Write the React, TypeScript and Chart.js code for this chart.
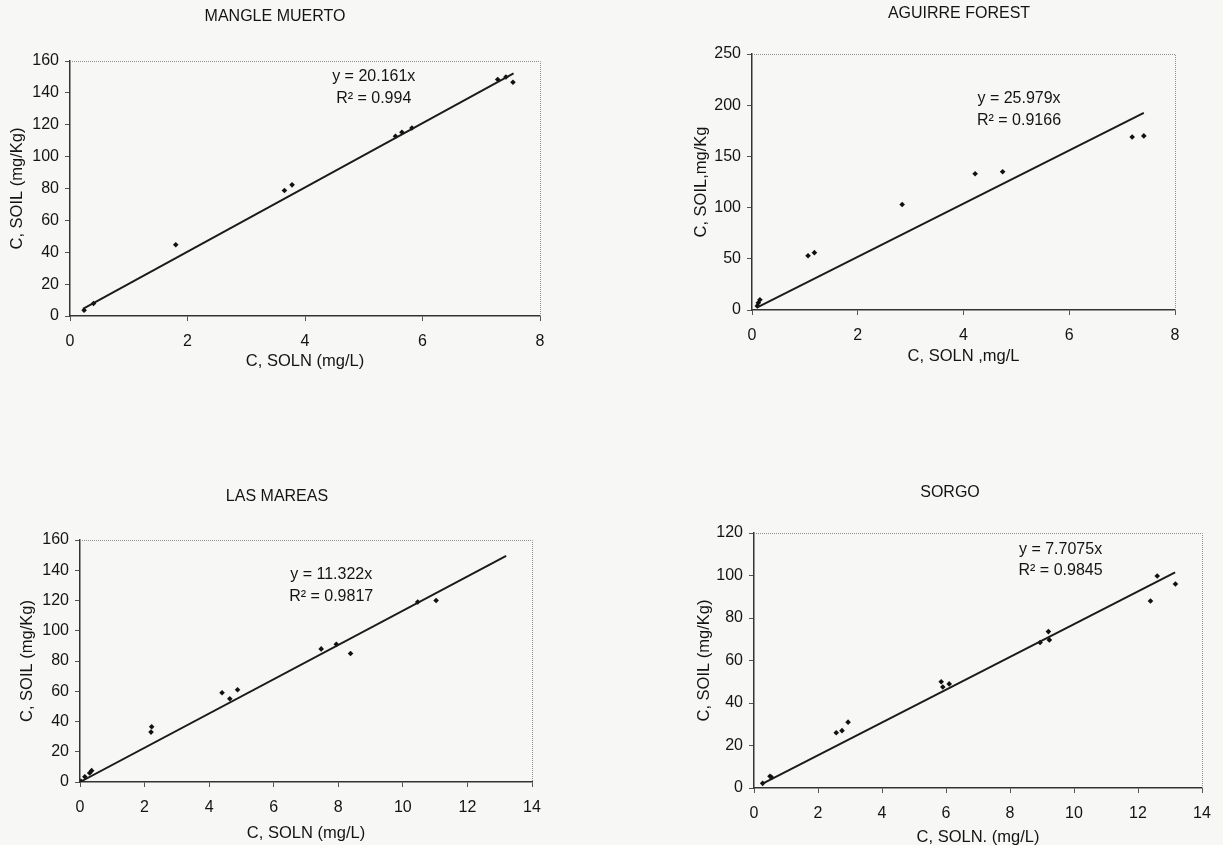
import React, { useEffect, useRef } from "react";
import { Chart, registerables } from "chart.js";

Chart.register(...registerables);

// ---------- data ----------
const mangleX = [0.24, 0.4, 1.8, 3.65, 3.78, 5.54, 5.65, 5.82, 7.28, 7.42, 7.54];
const mangleY = [3.6, 7.8, 44.7, 78.7, 82.3, 112.8, 115.3, 118, 148.4, 150, 146.7];
const mangleSlope = 20.161;
const mangleR2 = "0.994";
const mangleTrendRange = [0.22, 7.55];

const aguirreX = [0.1, 0.12, 0.15, 1.06, 1.18, 2.84, 4.22, 4.74, 7.19, 7.41];
const aguirreY = [4, 7, 10, 53, 56, 103, 133, 135, 169, 170];
const aguirreSlope = 25.979;
const aguirreR2 = "0.9166";
const aguirreTrendRange = [0.1, 7.41];

const mareasX = [0.03, 0.15, 0.3, 0.36, 2.2, 2.22, 4.4, 4.64, 4.88, 7.47, 7.94, 8.38, 10.46, 11.03];
const mareasY = [0.5, 3.5, 6, 7.5, 33, 36.5, 59, 55, 61, 88, 91, 85, 119, 120];
const mareasSlope = 11.322;
const mareasR2 = "0.9817";
const mareasTrendRange = [0, 13.2];

const sorgoX = [0.27, 0.5, 0.55, 2.57, 2.75, 2.94, 5.85, 5.9, 6.1, 8.94, 9.2, 9.23, 12.39, 12.6, 13.17];
const sorgoY = [2.2, 5.5, 5, 26, 27, 31, 50, 47.5, 49, 68.5, 73.6, 69.7, 88, 99.8, 96];
const sorgoSlope = 7.7075;
const sorgoR2 = "0.9845";
const sorgoTrendRange = [0.27, 13.16];

const xTicksShort = [0, 8, 2]; // min, max, step
const xTicksLong = [0, 14, 2];
const yTicks160 = [0, 160, 20];
const yTicks250 = [0, 250, 50];
const yTicks120 = [0, 120, 20];

const FONT = '"Liberation Sans", Arial, Helvetica, sans-serif';
const INK = "#141414";
const BG = "#f7f8f6";

type Panel = {
  title: string;
  xTitle: string;
  yTitle: string;
  xs: number[];
  ys: number[];
  slope: number;
  r2: string;
  trend: number[];
  xT: number[];
  yT: number[];
  eq: number[]; // data-space anchor for the equation label
  // layout
  left: number;
  top: number;
  w: number;
  h: number;
  padTop: number;
  padRight: number;
  yW: number;
  xH: number;
  yTitlePad: number;
  xTitlePad: number;
  titlePos: number[];
};

const panels: Panel[] = [
  {
    title: "MANGLE MUERTO", xTitle: "C, SOLN (mg/L)", yTitle: "C, SOIL (mg/Kg)",
    xs: mangleX, ys: mangleY, slope: mangleSlope, r2: mangleR2, trend: mangleTrendRange,
    xT: xTicksShort, yT: yTicks160, eq: [5.17, 150],
    left: 0, top: 0, w: 611, h: 380, padTop: 61, padRight: 71, yW: 70, xH: 64,
    yTitlePad: 8, xTitlePad: 9, titlePos: [275, 17],
  },
  {
    title: "AGUIRRE FOREST", xTitle: "C, SOLN ,mg/L", yTitle: "C, SOIL,mg/Kg",
    xs: aguirreX, ys: aguirreY, slope: aguirreSlope, r2: aguirreR2, trend: aguirreTrendRange,
    xT: xTicksShort, yT: yTicks250, eq: [5.05, 206],
    left: 620, top: 0, w: 603, h: 380, padTop: 54, padRight: 48, yW: 132, xH: 70,
    yTitlePad: 72, xTitlePad: 14, titlePos: [339, 14],
  },
  {
    title: "LAS MAREAS", xTitle: "C, SOLN (mg/L)", yTitle: "C, SOIL (mg/Kg)",
    xs: mareasX, ys: mareasY, slope: mareasSlope, r2: mareasR2, trend: mareasTrendRange,
    xT: xTicksLong, yT: yTicks160, eq: [7.78, 137],
    left: 0, top: 460, w: 611, h: 385, padTop: 80, padRight: 79, yW: 80, xH: 63,
    yTitlePad: 18, xTitlePad: 2, titlePos: [277, 37],
  },
  {
    title: "SORGO", xTitle: "C, SOLN. (mg/L)", yTitle: "C, SOIL (mg/Kg)",
    xs: sorgoX, ys: sorgoY, slope: sorgoSlope, r2: sorgoR2, trend: sorgoTrendRange,
    xT: xTicksLong, yT: yTicks120, eq: [9.58, 112.4],
    left: 620, top: 460, w: 603, h: 388, padTop: 73, padRight: 21, yW: 134, xH: 60,
    yTitlePad: 75, xTitlePad: 1, titlePos: [330, 33],
  },
];

const extrasPlugin = {
  id: "extras",
  beforeDatasetsDraw(chart: any) {
    const { ctx, chartArea: a } = chart;
    ctx.save();
    ctx.strokeStyle = "#8f8f8f";
    ctx.lineWidth = 1;
    ctx.setLineDash([1, 1]);
    ctx.beginPath();
    ctx.moveTo(a.left, Math.round(a.top) + 0.5);
    ctx.lineTo(Math.round(a.right) + 0.5, Math.round(a.top) + 0.5);
    ctx.lineTo(Math.round(a.right) + 0.5, a.bottom);
    ctx.stroke();
    ctx.restore();
  },
  afterDraw(chart: any, _args: any, opts: any) {
    const { ctx } = chart;
    ctx.save();
    ctx.fillStyle = INK;
    ctx.textAlign = "center";
    ctx.textBaseline = "middle";
    ctx.font = `16px ${FONT}`;
    ctx.fillText(opts.title, opts.titlePos[0], opts.titlePos[1]);
    const px = chart.scales.x.getPixelForValue(opts.eq[0]);
    const py = chart.scales.y.getPixelForValue(opts.eq[1]);
    ctx.font = `16px ${FONT}`;
    ctx.fillText(`y = ${opts.slope}x`, px, py);
    ctx.fillText(`R\u00B2 = ${opts.r2}`, px, py + 21.5);
    ctx.restore();
  },
};

function PanelChart({ p }: { p: Panel }) {
  const ref = useRef<HTMLCanvasElement | null>(null);
  useEffect(() => {
    if (!ref.current) return;
    const points = p.xs.map((x, i) => ({ x, y: p.ys[i] }));
    const trend = p.trend.map((x) => ({ x, y: p.slope * x }));
    const tickFont = { family: FONT, size: 16 };
    const titleFont = { family: FONT, size: 16.5 };
    const chart = new Chart(ref.current, {
      type: "scatter",
      data: {
        datasets: [
          {
            label: "trend",
            data: trend,
            showLine: true,
            borderColor: "#1a1a1a",
            borderWidth: 1.9,
            pointRadius: 0,
            fill: false,
          },
          {
            label: p.title,
            data: points,
            pointStyle: "rectRot",
            pointRadius: 2.8,
            backgroundColor: "#111",
            borderColor: "#111",
            borderWidth: 0,
          },
        ],
      },
      options: {
        responsive: false,
        maintainAspectRatio: false,
        animation: false,
        layout: { padding: { left: 0, top: p.padTop, right: p.padRight, bottom: 0 } },
        plugins: {
          legend: { display: false },
          tooltip: { enabled: false },
          title: { display: false },
          extras: { title: p.title, titlePos: p.titlePos, eq: p.eq, slope: p.slope, r2: p.r2 },
        } as any,
        scales: {
          x: {
            type: "linear",
            min: p.xT[0],
            max: p.xT[1],
            ticks: { stepSize: p.xT[2], color: INK, font: tickFont, padding: 11, maxRotation: 0 },
            grid: { drawOnChartArea: false, drawTicks: true, tickLength: 5, color: "#555" },
            border: { display: true, color: "#333", width: 1.5 },
            title: {
              display: true,
              text: p.xTitle,
              color: INK,
              font: titleFont,
              padding: { top: 0, bottom: p.xTitlePad },
            },
            afterFit: (s: any) => {
              s.height = p.xH;
            },
          },
          y: {
            type: "linear",
            min: p.yT[0],
            max: p.yT[1],
            ticks: { stepSize: p.yT[2], color: INK, font: tickFont, padding: 6 },
            grid: { drawOnChartArea: false, drawTicks: true, tickLength: 5, color: "#555" },
            border: { display: true, color: "#333", width: 1.5 },
            title: {
              display: true,
              text: p.yTitle,
              color: INK,
              font: titleFont,
              padding: { top: p.yTitlePad, bottom: 0 },
            },
            afterFit: (s: any) => {
              s.width = p.yW;
            },
          },
        },
      },
      plugins: [extrasPlugin as any],
    });
    return () => chart.destroy();
  }, [p]);
  return (
    <canvas
      ref={ref}
      width={p.w}
      height={p.h}
      style={{ position: "absolute", left: p.left, top: p.top, width: p.w, height: p.h }}
    />
  );
}

export default function App() {
  return (
    <div
      style={{
        position: "absolute",
        left: 0,
        top: 0,
        width: 1223,
        height: 845,
        background: BG,
        overflow: "hidden",
      }}
    >
      {panels.map((p) => (
        <PanelChart key={p.title} p={p} />
      ))}
    </div>
  );
}
